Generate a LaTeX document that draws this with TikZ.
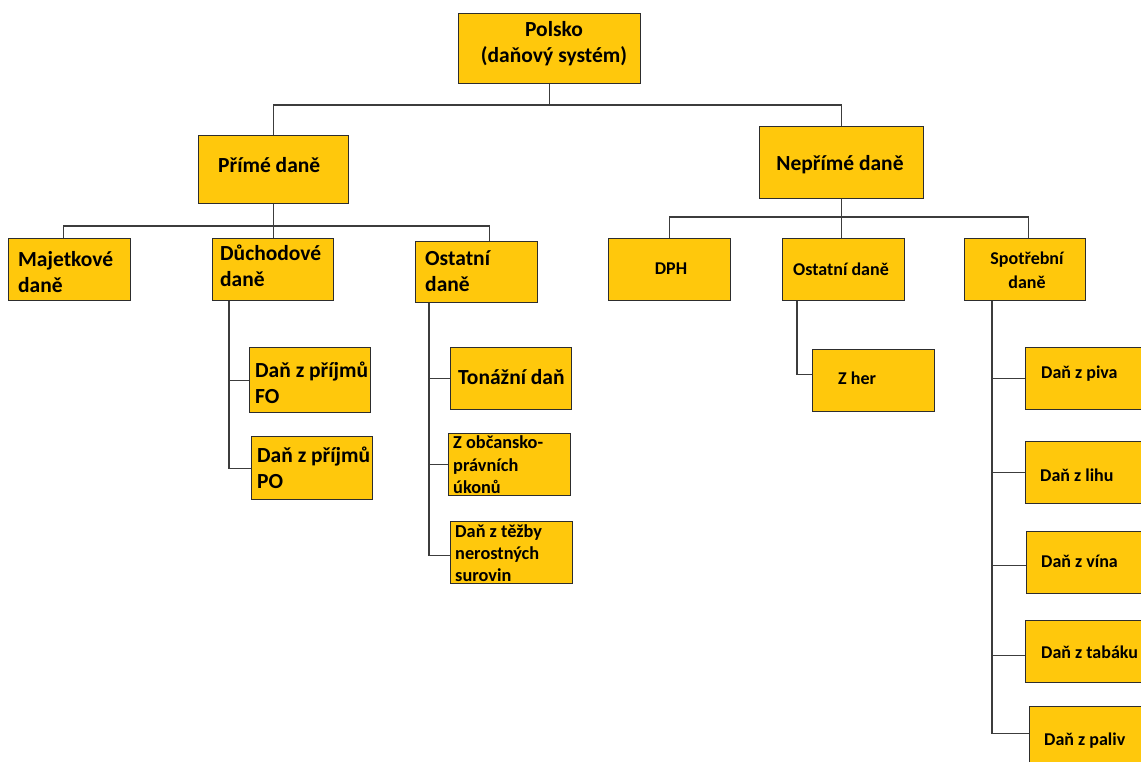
\documentclass[tikz,border=0pt]{standalone}
\usepackage{fontspec}
\setmainfont{Carlito}
\definecolor{gold}{RGB}{255,200,12}
\definecolor{boxline}{RGB}{45,45,45}
\definecolor{connc}{RGB}{60,60,60}
\begin{document}
\begin{tikzpicture}[x=1pt,y=-1pt,
  box/.style={draw=boxline, line width=1.4pt, fill=gold, anchor=north west, inner sep=0pt},
  conn/.style={draw=connc, line width=1.3pt},
  big/.style={font=\bfseries\fontsize{21.5}{26}\selectfont, inner sep=0pt, align=left, anchor=west},
  small/.style={font=\bfseries\fontsize{18}{22.5}\selectfont, inner sep=0pt, align=left, anchor=west},
]
\useasboundingbox (0,0) rectangle (1141,762);
\clip (0,0) rectangle (1141,762);
\fill[white] (0,0) rectangle (1141,762);

% boxes
\node[box, minimum width=182pt, minimum height=70pt] (polsko) at (458,13) {};
\node[box, minimum width=150pt, minimum height=68pt] (prime) at (198,135) {};
\node[box, minimum width=164pt, minimum height=72pt] (neprime) at (759,126) {};

\node[box, minimum width=122pt, minimum height=62pt] (majet) at (8,238) {};
\node[box, minimum width=121pt, minimum height=62pt] (duch) at (212,238) {};
\node[box, minimum width=122pt, minimum height=61pt] (ostL) at (415,241) {};
\node[box, minimum width=121pt, minimum height=65pt] (fo) at (249,347) {};
\node[box, minimum width=121pt, minimum height=63pt] (po) at (251,436) {};
\node[box, minimum width=121pt, minimum height=62pt] (ton) at (450,347) {};
\node[box, minimum width=122pt, minimum height=62pt] (obc) at (448,433) {};
\node[box, minimum width=122pt, minimum height=62pt] (tez) at (450,521) {};

\node[box, minimum width=122pt, minimum height=62pt] (dph) at (608,238) {};
\node[box, minimum width=122pt, minimum height=62pt] (ostR) at (782,238) {};
\node[box, minimum width=121pt, minimum height=62pt] (spot) at (964,238) {};
\node[box, minimum width=122pt, minimum height=62pt] (zher) at (812,349) {};
\node[box, minimum width=124pt, minimum height=62pt] (piva) at (1025,347) {};
\node[box, minimum width=124pt, minimum height=62pt] (lihu) at (1025,441) {};
\node[box, minimum width=124pt, minimum height=62pt] (vina) at (1026,531) {};
\node[box, minimum width=124pt, minimum height=62pt] (tabaku) at (1025,620) {};
\node[box, minimum width=124pt, minimum height=62pt] (paliv) at (1029,706) {};

% texts
\node[big, anchor=center, align=center] (tpolsko) at (554,44) {Polsko\\(daňový systém)};
\node[big] (tprime) at (218,165) {Přímé daně};
\node[big, anchor=center, align=center] (tneprime) at (840,165) {Nepřímé daně};
\node[big] (tmajet) at (18,272) {Majetkové\\daně};
\node[big] (tduch) at (220,266) {Důchodové\\daně};
\node[big] (tostL) at (425,271) {Ostatní\\daně};
\node[big] (tfo) at (255,383) {Daň z příjmů\\FO};
\node[big] (tpo) at (257,468) {Daň z příjmů\\PO};
\node[big] (tton) at (458,377) {Tonážní daň};
\node[small, font=\bfseries\fontsize{18.3}{22.5}\selectfont] (tobc) at (453,465) {Z občansko-\\právních\\úkonů};
\node[small, font=\bfseries\fontsize{18.3}{22}\selectfont] (ttez) at (455,553) {Daň z těžby\\nerostných\\surovin};

\node[small, anchor=center] (tdph) at (671,269) {DPH};
\node[small, anchor=center] (tostR) at (841,269) {Ostatní daně};
\node[small, anchor=center, align=center, font=\bfseries\fontsize{18}{24}\selectfont] (tspot) at (1027,270) {Spotřební\\daně};
\node[small] (tzher) at (838,378) {Z her};
\node[small] (tpiva) at (1041,374) {Daň z piva};
\node[small] (tlihu) at (1040,475) {Daň z lihu};
\node[small] (tvina) at (1041,561) {Daň z vína};
\node[small] (ttabaku) at (1041,652) {Daň z tabáku};
\node[small] (tpaliv) at (1044,741) {Daň z paliv};

% connectors
\coordinate (b1) at (0,105);
\coordinate (b2) at (0,226);
\coordinate (b3) at (0,217);
\draw[conn] (polsko.south) -- (polsko.south |- b1);
\draw[conn] (prime.north) |- (neprime.north |- b1) -- (neprime.north);

\coordinate (mtop) at ([xshift=-6pt]majet.north);
\coordinate (otop) at ([xshift=13pt]ostL.north);
\draw[conn] (mtop) |- (otop |- b2) -- (otop);
\draw[conn] (prime.south) -- (prime.south |- duch.north);

\coordinate (stop) at ([xshift=3.5pt]spot.north);
\draw[conn] (dph.north) |- (stop |- b3) -- (stop);
\draw[conn] (neprime.south) -- (neprime.south |- ostR.north);

\coordinate (dsp) at ([xshift=17pt]duch.south west);
\draw[conn] (dsp) |- (po.west);
\draw[conn] (dsp |- fo.west) -- (fo.west);

\coordinate (osp) at ([xshift=14pt]ostL.south west);
\draw[conn] (osp) |- ([yshift=-3pt]tez.west);
\draw[conn] (osp |- ton.west) -- (ton.west);
\draw[conn] (osp |- obc.west) -- (obc.west);

\coordinate (rsp) at ([xshift=15pt]ostR.south west);
\draw[conn] (rsp) |- ([yshift=6pt]zher.west);

\coordinate (ssp) at ([xshift=28pt]spot.south west);
\draw[conn] (ssp) |- ([yshift=4pt]paliv.west);
\draw[conn] (ssp |- piva.west) -- (piva.west);
\draw[conn] (ssp |- lihu.west) -- (lihu.west);
\draw[conn] ([yshift=-3pt]ssp |- vina.west) -- ([yshift=-3pt]vina.west);
\draw[conn] ([yshift=-4pt]ssp |- tabaku.west) -- ([yshift=-4pt]tabaku.west);
\end{tikzpicture}
\end{document}
